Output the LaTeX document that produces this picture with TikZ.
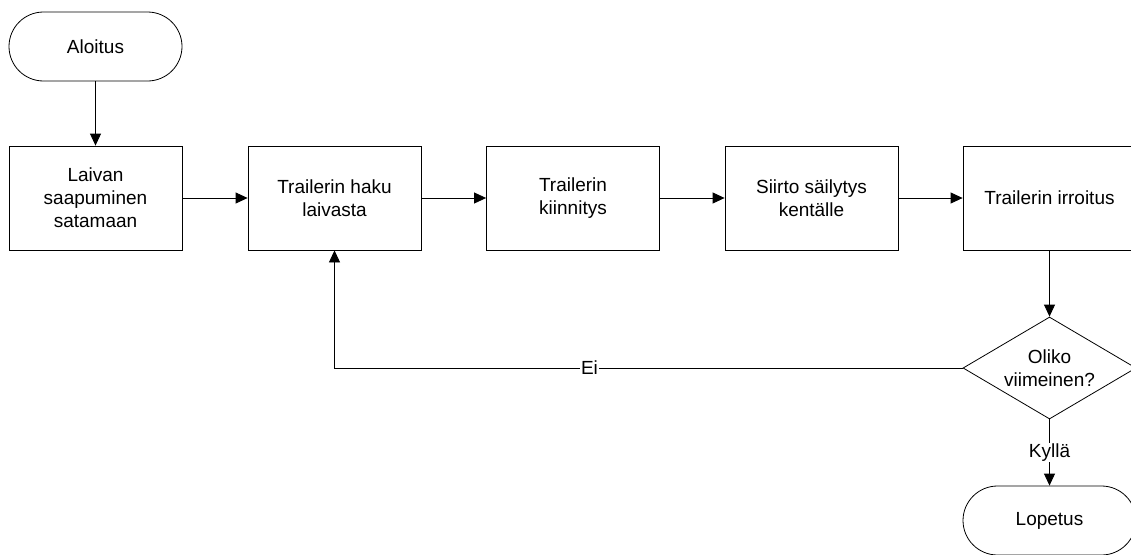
\documentclass[tikz,border=0pt]{standalone}
\usepackage{fontspec}
\setmainfont{Liberation Sans}
\usetikzlibrary{arrows.meta,shapes.geometric}
\begin{document}
\begin{tikzpicture}[x=1pt,y=-1pt,
  every node/.style={font=\fontsize{19}{23}\selectfont},
  proc/.style={draw=black,line width=0.8pt,rectangle,minimum width=173pt,minimum height=104pt,inner sep=0pt,align=center},
  term/.style={draw=black,line width=0.8pt,rectangle,rounded corners=34.5pt,minimum width=173pt,minimum height=69pt,inner sep=0pt,align=center},
  decision/.style={draw=black,line width=0.8pt,diamond,minimum width=173pt,minimum height=102pt,inner sep=0pt},
  conn/.style={draw=black,line width=0.8pt,-{Triangle[length=12pt,width=11pt]}},
  lbl/.style={fill=white,inner sep=1pt}]
\useasboundingbox (0,0) rectangle (1131,554);
\node[term] (start) at (95.5,46.5) {Aloitus};
\node[proc] (p1) at (95.5,198) {Laivan\\saapuminen\\satamaan};
\node[proc] (p2) at (334.5,198) {Trailerin haku\\laivasta};
\node[proc] (p3) at (573,198) {Trailerin\\kiinnitys};
\node[proc] (p4) at (811.5,198) {Siirto säilytys\\kentälle};
\node[proc] (p5) at (1049.5,198) {Trailerin irroitus};
\node[decision] (d) at (1049.5,368) {};
\node[align=center,inner sep=0pt] (dt) at (d.center) {Oliko\\viimeinen?};
\node[term] (end) at (1049.5,520.5) {Lopetus};
\draw[conn] (start) -- (p1);
\draw[conn] (p1) -- (p2);
\draw[conn] (p2) -- (p3);
\draw[conn] (p3) -- (p4);
\draw[conn] (p4) -- (p5);
\draw[conn] (p5) -- (d);
\draw[conn] (d) -- node[lbl,pos=0.5] {Kyllä} (end);
\draw[conn] (d.west) -| node[lbl,pos=0.297] {Ei} (p2.south);
\end{tikzpicture}
\end{document}
